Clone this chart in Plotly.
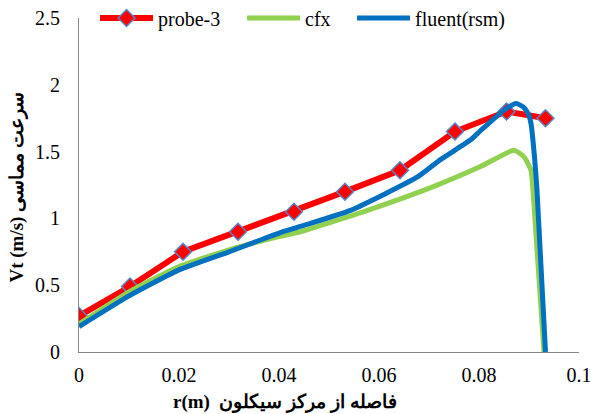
import plotly.graph_objects as go

# probe-3 (measured)
r_probe = [0, 0.0102, 0.0208, 0.0318, 0.043, 0.0532, 0.0642, 0.0752, 0.0855, 0.0933]
v_probe = [0.27, 0.49, 0.75, 0.90, 1.05, 1.20, 1.36, 1.65, 1.80, 1.75]

# cfx
r_cfx = [0, 0.01, 0.02, 0.03, 0.04, 0.0443, 0.0577, 0.0710, 0.0804, 0.087, 0.089, 0.0904, 0.0908, 0.093]
v_cfx = [0.21, 0.45, 0.64, 0.765, 0.864, 0.90, 1.06, 1.24, 1.39, 1.51, 1.46, 1.36, 1.21, 0]

# fluent(rsm)
r_rsm = [0, 0.01, 0.02, 0.03, 0.04, 0.0443, 0.0543, 0.0677, 0.0723, 0.0784, 0.0804, 0.085, 0.0874, 0.089, 0.090, 0.0904, 0.0911, 0.0916, 0.0933]
v_rsm = [0.19, 0.42, 0.615, 0.75, 0.89, 0.94, 1.06, 1.31, 1.44, 1.59, 1.66, 1.81, 1.86, 1.83, 1.77, 1.71, 1.46, 1.21, 0]

x_ticks = [0, 0.02, 0.04, 0.06, 0.08, 0.1]
x_ticktext = ["0", "0.02", "0.04", "0.06", "0.08", "0.1"]
y_ticks = [0, 0.5, 1, 1.5, 2, 2.5]
y_ticktext = ["0", "0.5", "1", "1.5", "2", "2.5"]

x_title = "r(m)\u00a0\u00a0فاصله از مرکز سیکلون"
y_title = "Vt (m/s) سرعت مماسی"

FONT = "Liberation Serif"

fig = go.Figure()
fig.add_trace(go.Scatter(
    x=r_probe, y=v_probe, name="probe-3", mode="lines+markers",
    line=dict(color="#FF0000", width=6),
    marker=dict(symbol="diamond", size=13, color="#FF0000",
                line=dict(color="#5B86C5", width=1.5)),
    legendwidth=79,
))
fig.add_trace(go.Scatter(
    x=r_cfx, y=v_cfx, name="cfx", mode="lines",
    line=dict(color="#92D050", width=5, shape="spline", smoothing=0.5),
    legendwidth=42,
))
fig.add_trace(go.Scatter(
    x=r_rsm, y=v_rsm, name="fluent(rsm)", mode="lines",
    line=dict(color="#0070C0", width=5, shape="spline", smoothing=0.5),
))

fig.update_layout(
    width=590, height=414,
    margin=dict(l=79, r=11, t=18, b=62, autoexpand=False),
    paper_bgcolor="white", plot_bgcolor="white",
    font=dict(family=FONT, size=20, color="#000000"),
    showlegend=True,
    legend=dict(orientation="h", x=(95 - 79) / 499, y=1.0, xanchor="left", yanchor="middle",
                bgcolor="rgba(255,255,255,0)", font=dict(family=FONT, size=20),
                itemwidth=53, tracegroupgap=0),
    xaxis=dict(range=[0, 0.1], tickvals=x_ticks, ticktext=x_ticktext,
               showgrid=False, zeroline=False, showline=True,
               linecolor="#868686", linewidth=1, ticks="",
               ticklabeloverflow="allow", automargin=False,
               ticklabelstandoff=5, tickfont=dict(family=FONT, size=20)),
    yaxis=dict(range=[0, 2.5], tickvals=y_ticks, ticktext=y_ticktext,
               showgrid=False, zeroline=False, showline=True,
               linecolor="#868686", linewidth=1, ticks="",
               automargin=False,
               ticklabelstandoff=14, tickfont=dict(family=FONT, size=20)),
    annotations=[
        dict(text="<b>" + x_title + "</b>", xref="paper", yref="paper",
             x=(285 - 79) / 499, y=-0.151, xanchor="center", yanchor="middle",
             showarrow=False, font=dict(family=FONT, size=19)),
        dict(text="<b>" + y_title + "</b>", xref="paper", yref="paper",
             x=(17 - 79) / 499, y=0.492, xanchor="center", yanchor="middle",
             textangle=-90, showarrow=False, font=dict(family=FONT, size=19)),
    ],
)

fig.write_html("out.html")
